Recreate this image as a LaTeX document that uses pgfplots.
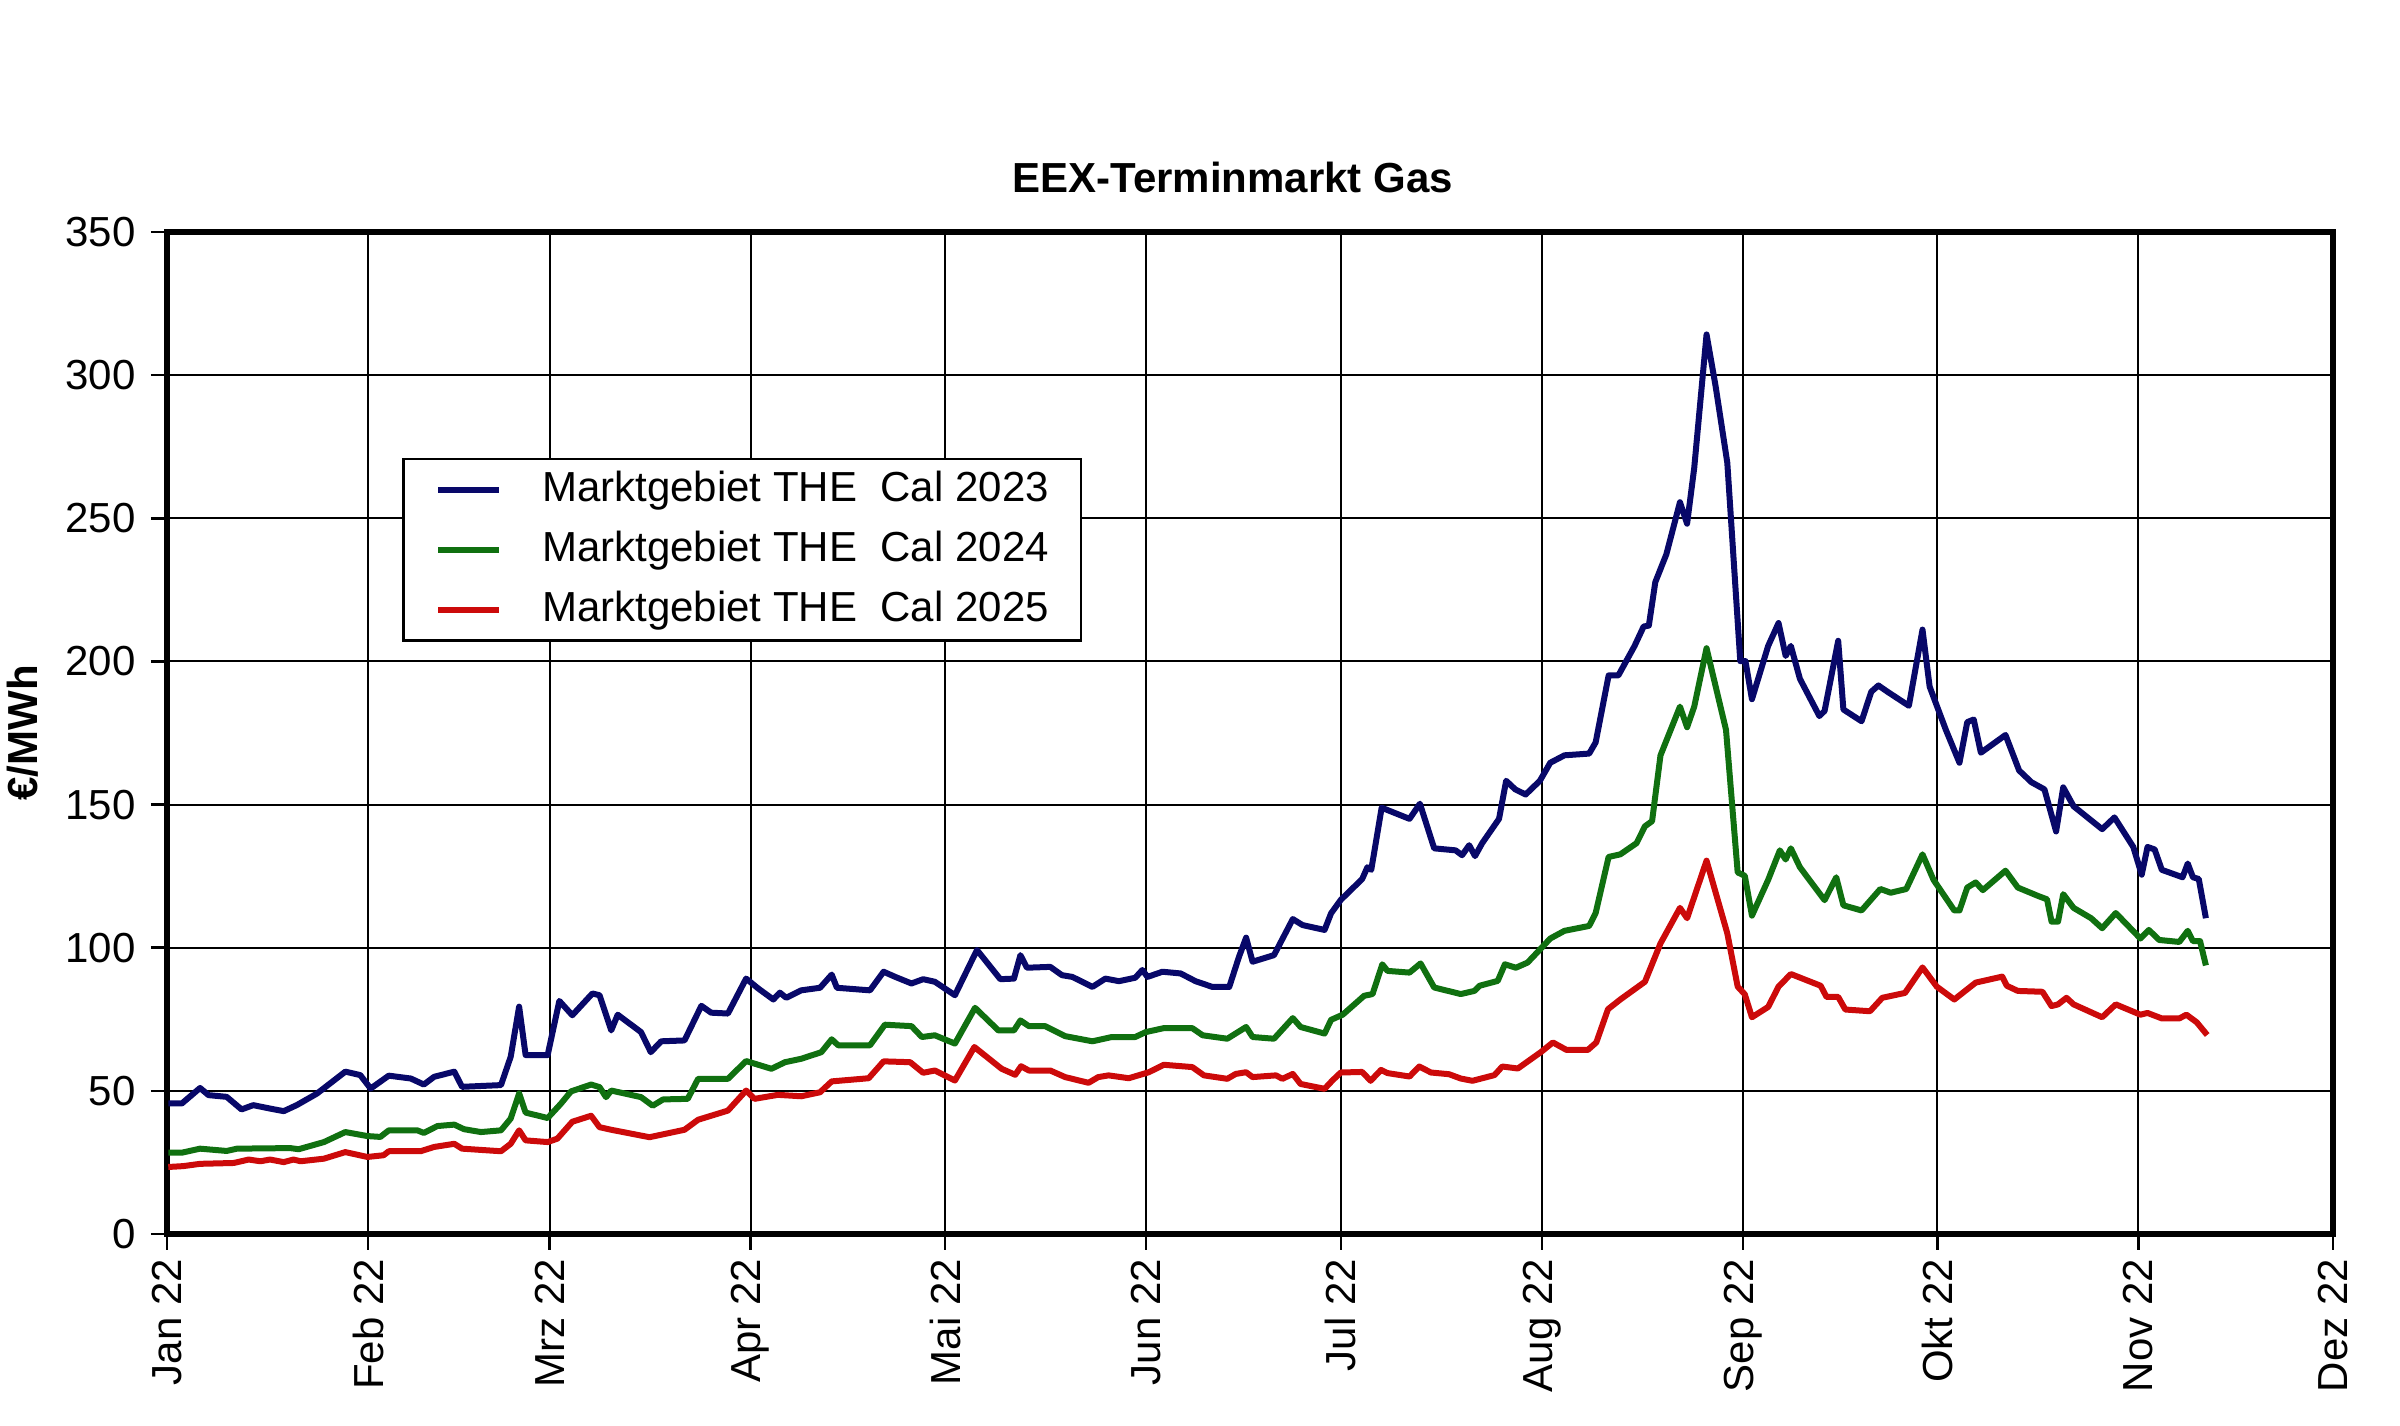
\documentclass[border=0pt]{standalone}
\usepackage{fontspec}
\setmainfont{Liberation Sans}
\usepackage{pgfplots}
\pgfplotsset{compat=1.18}
\definecolor{cnavy}{RGB}{8,8,105}
\definecolor{cgreen}{RGB}{16,112,16}
\definecolor{cred}{RGB}{204,10,10}
\newcommand{\cf}{\fontsize{8.4}{10}\selectfont}
\begin{document}
\begin{tikzpicture}
\begin{axis}[
  at={(0,0)}, anchor=south west,
  scale only axis, width=433.2pt, height=200.4pt,
  xmin=0, xmax=334, ymin=0, ymax=350,
  xtick={0,31,59,90,120,151,181,212,243,273,304,334},
  xticklabels={Jan 22,Feb 22,Mrz 22,Apr 22,Mai 22,Jun 22,Jul 22,Aug 22,Sep 22,Okt 22,Nov 22,Dez 22},
  ytick={0,50,100,150,200,250,300,350},
  yticklabels={0,50,100,150,200,250,300,350},
  tick align=outside, tick pos=left,
  major tick length=3.2pt,
  every tick/.style={black, line width=0.5pt},
  grid=major,
  major grid style={black, line width=0.4pt},
  axis line style={line width=1.3pt},
  ticklabel style={font=\cf, inner sep=0pt},
  xticklabel style={yshift=-1.6pt, rotate=90, anchor=east},
  yticklabel style={xshift=-2.9pt, anchor=east},
  every axis title/.style={at={(0.492,1)}, yshift=7.8pt, anchor=base, font=\bfseries\cf, inner sep=0pt},
  title={EEX-Terminmarkt Gas},
  every axis y label/.style={at={(0,0.5)}, xshift=-28.8pt, rotate=90, anchor=center, font=\bfseries\cf, inner sep=0pt},
  ylabel={€/MWh},
  legend style={at={(0.1085,0.7745)}, anchor=north west, draw=black, line width=0.5pt,
    inner xsep=6.4pt, inner ysep=2pt, row sep=3.7pt, column sep=8pt, font=\cf,
    nodes={inner sep=0pt, text height=6.5pt, text depth=1.8pt}},
  legend cell align=left,
  legend image code/.code={\draw[#1] (0pt,0pt) -- (12.2pt,0pt);},
  every axis plot/.append style={line width=1.2pt, line join=round},
]
\addplot[cnavy] table {
0.2 45.6
2.3 45.6
5.1 51
6.4 48.5
9.2 47.9
11.5 43.5
13.3 45
15.9 43.8
18 42.9
20 45
23.1 49
27.5 56.7
29.8 55.5
31.4 50.8
34.2 55.3
37.6 54.3
39.6 52.2
41.2 54.9
44.3 56.7
45.5 51.4
51.5 52
53 61.9
54.3 79.4
55.3 62.5
58.7 62.5
60.5 81.4
62.5 76.4
65.6 84
66.7 83.4
68.5 71.1
69.5 76.6
73.1 70.5
74.6 63.5
76.2 67.3
79.8 67.6
82.4 79.7
83.9 77.3
86.5 77
89.3 89.2
91.2 85.7
93.5 81.9
94.5 84.3
95.5 82.5
97.8 85.1
100.7 86
102.5 90.6
103.3 86
108.4 85.1
110.5 91.6
112.3 89.8
114.8 87.5
116.6 89
118.4 88.1
121.5 83.4
124.9 99.2
128.5 89
130.6 89.2
131.6 97.4
132.6 93
136.2 93.3
138 90.4
139.6 89.8
142.7 86.3
144.7 89.2
146.8 88.3
149.3 89.5
150.4 92.2
151.2 89.8
153.5 91.6
156.3 91
158.6 88.3
161.2 86.3
163.8 86.3
165.3 96.8
166.4 103.5
167.4 95.1
170.7 97.4
173.6 110
175.1 107.9
178.5 106.2
179.5 112
181 116.7
184.3 124
185.1 128.1
185.7 127.2
187.3 148.9
191.6 145
193.2 150.3
195.4 134.7
198.7 134
199.7 132.3
200.8 135.8
201.7 132
202.8 136.5
205.4 145
206.5 158.3
207.9 155.3
209.5 153.5
211.7 158.3
213.3 164.6
215.5 167.2
219.3 167.8
220.3 171.7
222.3 195.1
223.8 195.1
226.3 205.4
227.7 212.2
228.5 212.5
229.5 227.7
231.2 237.4
233.3 255.6
234.4 248.1
235.5 267.6
237.4 314.2
238.8 296.1
240.6 269.4
242.6 200.1
243.4 200.1
244.4 186.8
246.9 205.4
248.5 213.4
249.6 201.9
250.4 205.4
251.8 193.9
254.8 180.9
255.6 182.7
257.7 207.2
258.5 183.2
261.3 179.1
262.8 189.4
263.9 191.6
265.3 189.4
268.6 184.5
270.7 211.1
271.8 191.2
274.3 176.1
276.4 164.6
277.6 178.8
278.6 179.7
279.7 168.1
283.5 174.3
285.6 161.9
287.5 157.8
289.5 155.3
291.3 140.6
292.4 156
294 149.4
298.4 141.4
300.3 145.5
303.2 135.2
304.5 125.5
305.4 135.2
306.5 134.3
307.6 127.2
310.8 124.6
311.6 129.4
312.4 124.6
313.3 124
314.4 110.3
};
\addlegendentry{Marktgebiet THE\ \ Cal 2023}
\addplot[cgreen] table {
0.2 28.4
2.3 28.4
5.1 29.8
9.2 29
10.8 29.8
19 30
20.3 29.6
24.2 32.1
27.5 35.6
30.9 34.2
32.9 33.9
34.2 36.2
38.6 36.2
39.6 35.3
41.7 37.7
44.3 38.2
45.8 36.6
48.4 35.6
51.5 36.2
53 40.3
54.3 49.1
55.3 42.4
58.7 40.5
60.7 45.4
62.3 49.8
65.4 52.2
66.7 51.3
67.7 47.8
68.5 50.1
73.1 47.8
74.9 44.8
76.5 47
80.3 47.2
81.9 54.2
86.5 54.2
89.3 60.4
93.2 57.7
95.3 60
97.8 61.2
100.9 63.5
102.5 68
103.5 65.9
108.4 65.9
110.7 73.1
114.8 72.6
116.4 68.8
118.4 69.4
121.5 66.5
124.6 79
128.2 71.1
130.6 71.1
131.6 74.6
132.9 72.6
135.4 72.6
138.5 69.1
142.7 67.3
145.7 68.8
149.3 68.8
150.9 70.5
153.7 71.9
158.1 71.9
159.7 69.4
163.5 68.2
166.4 72.3
167.4 68.8
170.7 68.2
173.6 75.4
174.8 72.3
178.5 70
179.5 74.8
181.3 76.6
184.6 83.2
185.9 83.8
187.4 94.2
188.2 91.9
191.6 91.3
193.3 94.5
195.4 86.1
199.5 83.8
201.6 84.9
202.4 86.7
205.2 88.4
206.3 94.2
208 93
209.8 94.8
211.1 97.9
213.3 103.2
215.5 105.9
219.3 107.6
220.3 112.1
222.3 131.7
224.1 132.6
226.6 136.5
227.9 142.4
229 144.2
230.3 167.2
233.3 184.2
234.4 177
235.5 184.2
237.4 204.6
240.4 176.1
242.2 126.3
243.3 125.1
244.4 111.2
246.9 123.7
248.7 134
249.6 130.8
250.4 134.7
251.8 128.1
255.6 116.6
257.4 124.6
258.5 114.8
261.3 113
264.2 120.5
265.8 119.2
268.2 120.5
270.7 132.6
272.4 123.7
275.6 113
276.4 113
277.6 121
278.9 122.8
280 120.1
283.5 126.9
285.4 121
288.6 118
289.9 116.9
290.6 109.1
291.6 109.1
292.4 118.7
294 113.9
296.7 110.3
298.4 106.8
300.5 112.1
304.3 103.2
305.6 106.2
307.2 102.7
310.3 102
311.6 105.9
312.4 102.3
313.5 102.3
314.4 93.8
};
\addlegendentry{Marktgebiet THE\ \ Cal 2024}
\addplot[cred] table {
0.2 23.4
2.5 23.7
5.1 24.5
10.3 24.8
12.6 26
14.4 25.4
15.9 26
18 25.1
19.5 26
20.6 25.4
24.2 26.3
27.5 28.6
30.9 26.9
33.4 27.5
34.2 28.9
39.1 28.9
41.2 30.4
44.3 31.5
45.5 29.8
51.5 28.9
53 31.5
54.3 36.2
55.3 32.7
58.7 32.1
60.2 33.3
62.5 39.2
65.4 41.3
66.7 37.3
68.5 36.4
74.4 33.8
79.8 36.4
81.9 39.9
86.5 43.1
89.3 50.1
90.6 47.2
94.2 48.6
97.8 48.1
100.7 49.5
102.5 53.3
108.2 54.4
110.5 60.3
114.6 60
116.6 56.3
118.4 57.1
121.5 53.6
124.5 65.3
128.7 57.7
130.8 55.6
131.7 58.6
132.9 57.1
136.2 57.1
138.5 54.8
142.1 52.8
143.6 54.8
145.2 55.4
148.3 54.4
151.4 56.5
153.7 59.1
158.1 58.3
159.9 55.4
163.5 54.2
164.8 55.9
166.4 56.5
167.4 54.8
171 55.4
172 54.2
173.6 55.9
174.8 52.4
177.2 51.3
178.5 50.7
179.7 53.6
181 56.4
184.3 56.6
185.6 53.5
187.2 57.3
188.2 56.2
191.6 55
193.1 58.5
194.9 56.4
197.7 55.8
199.5 54.3
201.3 53.5
204.7 55.5
205.9 58.5
208.3 57.8
211.9 63.6
213.7 66.9
215.8 64.3
219.1 64.3
220.4 66.9
222.2 78.5
224.1 81.9
227.9 88.1
230.3 101.5
233.3 113.9
234.4 110.3
237.4 130.4
240.6 105
242.2 86.4
243.3 83.7
244.4 75.7
246.9 79.3
248.5 86.4
250.4 90.8
255 86.7
255.9 82.8
257.7 82.8
258.8 78.4
262.6 77.8
264.5 82.5
268 84.2
270.7 93.1
272.9 86.4
275.6 81.9
278.9 87.8
283 89.9
283.7 86.7
285.4 84.9
289.2 84.6
290.6 79.6
291.6 80.2
292.9 82.5
294 80.2
298.4 75.7
300.5 80.2
304.3 76.6
305.4 77.2
307.6 75.3
310.3 75.3
311.4 76.6
313 73.9
314.6 69.5
};
\addlegendentry{Marktgebiet THE\ \ Cal 2025}
\end{axis}
\pgfresetboundingbox
\path[use as bounding box] (-33.4pt,-38.4pt) rectangle (446.6pt,246.8pt);
\end{tikzpicture}
\end{document}
